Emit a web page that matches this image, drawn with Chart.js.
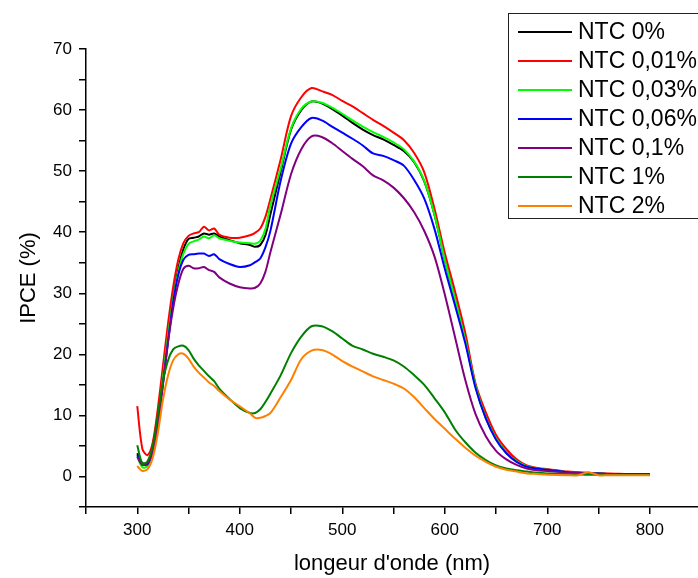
<!DOCTYPE html>
<html>
<head>
<meta charset="utf-8">
<script src="https://cdn.jsdelivr.net/npm/chart.js@4/dist/chart.umd.min.js"></script>
<style>
  html, body { margin: 0; padding: 0; background: #fff; }
  #wrap { width: 698px; height: 578px; }
</style>
</head>
<body>
<div id="wrap"><canvas id="ipceChart" width="698" height="578"></canvas></div>
<script>
// longueur d'onde (nm)
const wavelengths = [300, 305, 310, 315, 320, 325, 330, 335, 340, 345, 350, 355, 360, 365, 370, 375, 380, 390, 400, 410, 415, 420, 425, 430, 440, 450, 460, 470, 480, 490, 500, 510, 520, 530, 540, 550, 560, 570, 580, 590, 600, 610, 620, 630, 640, 650, 660, 670, 680, 690, 700, 720, 730, 740, 750, 760, 780, 800];

const seriesLabels = ['NTC 0%', 'NTC 0,01%', 'NTC 0,03%', 'NTC 0,06%', 'NTC 0,1%', 'NTC 1%', 'NTC 2%'];
const seriesColors = ['#000000', '#ff0000', '#00ff00', '#0000ff', '#800080', '#008000', '#ff8000'];

const ntc0 = [3.8, 2.2, 2.2, 4.5, 9.5, 16.5, 23.5, 29.5, 34, 37.2, 38.9, 39.1, 39.3, 39.8, 39.6, 39.8, 39.3, 38.7, 38.2, 37.9, 37.6, 37.9, 39.5, 43, 50, 56.8, 60, 61.4, 61.1, 60.2, 59.1, 57.9, 56.8, 55.9, 55.2, 54.3, 53.3, 51.5, 48.3, 42.8, 35.5, 29, 22.3, 14.8, 9.6, 6.2, 3.9, 2.5, 1.7, 1.3, 1.1, 0.7, 0.6, 0.5, 0.5, 0.4, 0.4, 0.4];
const ntc001 = [11.5, 4.5, 3.5, 5.5, 11, 18, 25, 31, 35.5, 38.2, 39.4, 39.8, 40, 40.9, 40.3, 40.6, 39.6, 39.1, 39.1, 39.5, 39.9, 40.6, 42.5, 45.5, 52, 59, 62.1, 63.6, 63.1, 62.5, 61.5, 60.6, 59.5, 58.4, 57.4, 56.3, 55.1, 53, 49.8, 43.8, 36.6, 30.3, 23.5, 15.2, 10.5, 6.8, 4.5, 2.8, 1.8, 1.4, 1.2, 0.8, 0.7, 0.6, 0.5, 0.5, 0.4, 0.4];
const ntc003 = [3.3, 1.5, 1.7, 4, 9, 16, 23, 29, 33.5, 36.5, 38.1, 38.5, 38.8, 39.3, 39, 39.5, 39, 38.6, 38.3, 38.2, 38.1, 38.6, 40.5, 44.5, 50.5, 57, 60.2, 61.4, 61.2, 60.4, 59.4, 58.3, 57.3, 56.4, 55.6, 54.7, 53.6, 51.6, 48.4, 42.8, 35.5, 29, 22.3, 14.8, 9.6, 6.2, 3.9, 2.5, 1.7, 1.3, 1.1, 0.7, 0.6, 0.5, 0.5, 0.4, 0.4, 0.3];
const ntc006 = [3.5, 2, 2, 4, 8.5, 15, 22, 28.5, 33, 35.5, 36.3, 36.4, 36.5, 36.5, 36.1, 36.4, 35.6, 34.8, 34.3, 34.6, 35.1, 35.7, 37.5, 40.3, 48.5, 54.5, 57.2, 58.7, 58.3, 57.3, 56.3, 55.3, 54.2, 52.9, 52.5, 51.8, 50.9, 48.6, 45.5, 40.5, 34, 28, 21.8, 14.5, 9.5, 6, 3.8, 2.4, 1.6, 1.3, 1.1, 0.7, 0.6, 0.5, 0.5, 0.4, 0.4, 0.4];
const ntc01 = [3.2, 1.9, 2.2, 4, 8.5, 15, 22, 27.5, 31.5, 34, 34.5, 34.1, 34.1, 34.3, 33.8, 33.5, 32.6, 31.6, 31, 30.8, 30.9, 31.6, 33.5, 36.8, 43, 49.5, 53.6, 55.7, 55.6, 54.6, 53.3, 52, 50.8, 49.3, 48.5, 47.3, 45.6, 43.3, 40.2, 36, 29.8, 22.8, 15.8, 10.2, 6.6, 4.2, 2.8, 1.9, 1.3, 1, 0.9, 0.6, 0.55, 0.5, 0.45, 0.4, 0.3, 0.3];
const ntc1 = [5.1, 2.1, 2.5, 5, 10, 15.5, 19, 20.8, 21.3, 21.4, 20.7, 19.3, 18.2, 17.3, 16.4, 15.6, 14.4, 12.7, 11.2, 10.4, 10.4, 11, 12.2, 13.6, 16.6, 20.2, 22.9, 24.6, 24.6, 23.8, 22.6, 21.4, 20.8, 20.1, 19.6, 19, 18, 16.6, 15, 12.8, 10.5, 7.7, 5.6, 3.9, 2.7, 1.8, 1.3, 1, 0.8, 0.6, 0.5, 0.4, 0.35, 0.3, 0.3, 0.3, 0.3, 0.3];
const ntc2 = [1.7, 0.9, 1.2, 3, 7, 12.5, 16.5, 19, 20, 20.1, 19.3, 18, 17, 16.2, 15.4, 14.8, 14, 12.6, 11.5, 10.3, 9.6, 9.6, 9.9, 10.4, 13, 15.8, 19.2, 20.6, 20.7, 20, 18.9, 18, 17.2, 16.4, 15.8, 15.2, 14.4, 13, 11.2, 9.4, 7.8, 6.2, 4.7, 3.4, 2.4, 1.6, 1.1, 0.8, 0.5, 0.4, 0.3, 0.2, 0.2, 0.7, 0.2, 0.2, 0.2, 0.2];

const seriesValues = [ntc0, ntc001, ntc003, ntc006, ntc01, ntc1, ntc2];

const FONT = '"Liberation Sans", Arial, sans-serif';

// legende encadree en haut a droite (comme dans Origin)
const boxLegend = {
  id: 'boxLegend',
  afterDraw(chart) {
    const ctx = chart.ctx;
    ctx.save();
    ctx.fillStyle = '#ffffff';
    ctx.fillRect(508.5, 13.5, 200, 205);
    ctx.strokeStyle = '#222';
    ctx.lineWidth = 1;
    ctx.strokeRect(508.5, 13.5, 200, 205);
    ctx.font = '23px ' + FONT;
    ctx.textBaseline = 'middle';
    chart.data.datasets.forEach((ds, i) => {
      const y = 32 + i * 29;
      ctx.strokeStyle = ds.borderColor;
      ctx.lineWidth = 2;
      ctx.beginPath();
      ctx.moveTo(518, y);
      ctx.lineTo(572, y);
      ctx.stroke();
      ctx.fillStyle = '#000';
      ctx.fillText(ds.label, 578, y + 1);
    });
    ctx.restore();
  }
};

const ctx = document.getElementById('ipceChart').getContext('2d');

new Chart(ctx, {
  type: 'line',
  data: {
    datasets: seriesLabels.map((label, i) => ({
      label: label,
      data: wavelengths.map((w, j) => ({ x: w, y: seriesValues[i][j] })),
      borderColor: seriesColors[i],
      backgroundColor: seriesColors[i],
      borderWidth: 2,
      pointRadius: 0,
      tension: 0.3,
      fill: false,
      order: seriesLabels.length - i
    }))
  },
  options: {
    responsive: false,
    animation: false,
    layout: { padding: { top: 49, right: 0, left: 0, bottom: 0 } },
    plugins: {
      legend: { display: false },
      tooltip: { enabled: false }
    },
    scales: {
      x: {
        type: 'linear',
        min: 250,
        max: 847,
        afterFit: (scale) => {
          scale.height = 71;
          scale.paddingLeft = 0;
          scale.paddingRight = 0;
        },
        border: { display: true, color: '#000', width: 1.5 },
        grid: {
          drawOnChartArea: false,
          drawTicks: true,
          tickLength: 7,
          lineWidth: 1.5,
          color: (c) => (c.tick && c.tick.value % 50 === 0 ? '#000' : 'rgba(0,0,0,0)')
        },
        ticks: {
          stepSize: 50,
          autoSkip: false,
          maxRotation: 0,
          padding: 6,
          color: '#000',
          font: { family: FONT, size: 17 },
          callback: (v) => (v % 100 === 0 ? v : '')
        },
        title: {
          display: true,
          text: "longeur d'onde (nm)",
          color: '#000',
          font: { family: FONT, size: 22 },
          padding: { top: 0, bottom: 1 }
        }
      },
      y: {
        min: -5,
        max: 70,
        afterFit: (scale) => {
          scale.width = 86;
          scale.paddingTop = 0;
          scale.paddingBottom = 0;
        },
        border: { display: true, color: '#000', width: 1.5 },
        grid: {
          drawOnChartArea: false,
          drawTicks: true,
          tickLength: 7,
          lineWidth: 1.5,
          color: '#000'
        },
        ticks: {
          stepSize: 5,
          autoSkip: false,
          padding: 7,
          color: '#000',
          font: { family: FONT, size: 17 },
          callback: (v) => (v % 10 === 0 ? v : '')
        },
        title: {
          display: true,
          text: 'IPCE (%)',
          color: '#000',
          font: { family: FONT, size: 22 },
          padding: { top: 16, bottom: 0 }
        }
      }
    }
  },
  plugins: [boxLegend]
});
</script>
</body>
</html>
